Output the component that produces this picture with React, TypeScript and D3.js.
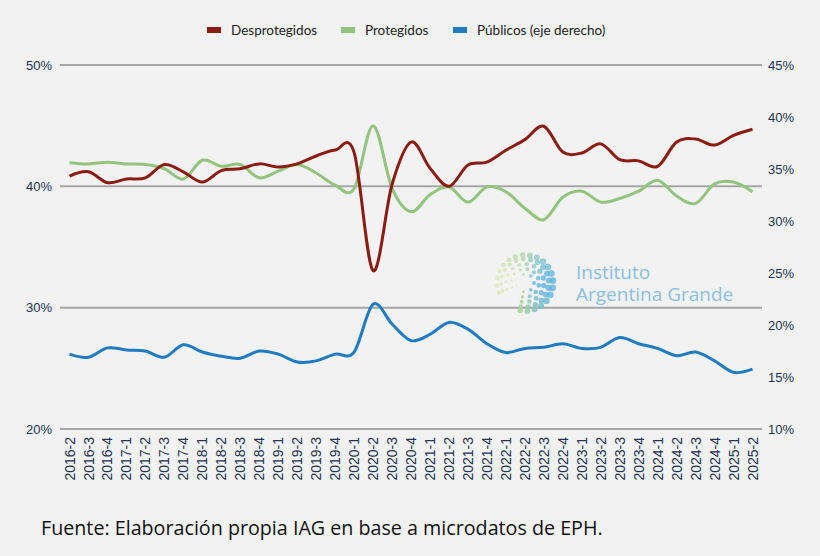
import React from "react";
import * as d3 from "d3";

const categories = [
  "2016-2","2016-3","2016-4",
  "2017-1","2017-2","2017-3","2017-4",
  "2018-1","2018-2","2018-3","2018-4",
  "2019-1","2019-2","2019-3","2019-4",
  "2020-1","2020-2","2020-3","2020-4",
  "2021-1","2021-2","2021-3","2021-4",
  "2022-1","2022-2","2022-3","2022-4",
  "2023-1","2023-2","2023-3","2023-4",
  "2024-1","2024-2","2024-3","2024-4",
  "2025-1","2025-2",
];

const desprotegidos = [40.85, 41.2, 40.3, 40.6, 40.7, 41.8, 41.2, 40.35, 41.3, 41.45, 41.85, 41.6, 41.85, 42.5, 43.0, 42.8, 33.05, 40.15, 43.65, 41.5, 40.0, 41.75, 42.0, 42.97, 43.85, 44.95, 42.83, 42.75, 43.5, 42.2, 42.1, 41.65, 43.65, 43.9, 43.4, 44.2, 44.7];
const protegidos = [41.95, 41.85, 41.98, 41.85, 41.8, 41.45, 40.6, 42.15, 41.65, 41.8, 40.7, 41.25, 41.8, 41.1, 40.1, 39.8, 45.0, 39.85, 37.9, 39.3, 39.95, 38.7, 39.95, 39.55, 38.2, 37.25, 39.1, 39.6, 38.7, 39.0, 39.6, 40.5, 39.2, 38.6, 40.2, 40.35, 39.55];
const publicos = [17.2, 16.9, 17.8, 17.6, 17.5, 16.9, 18.1, 17.4, 17.0, 16.8, 17.5, 17.2, 16.45, 16.55, 17.2, 17.4, 22.0, 20.1, 18.5, 19.1, 20.25, 19.6, 18.2, 17.35, 17.75, 17.85, 18.2, 17.75, 17.85, 18.8, 18.2, 17.75, 17.05, 17.4, 16.55, 15.45, 15.75];

const leftTicks = [20, 30, 40, 50];
const rightTicks = [10, 15, 20, 25, 30, 35, 40, 45];

const seriesNames = ["Desprotegidos", "Protegidos", "Públicos (eje derecho)"];
const seriesColors = ["#8b1c12", "#93c47d", "#1f7cc1"];

const W = 820;
const H = 556;
const plotLeft = 60;
const plotRight = 762;
const plotTop = 65;
const plotBottom = 429;

const tickColor = "#1f3354";

function Logo({ cx, cy }: { cx: number; cy: number }) {
  const dots: { x: number; y: number; r: number; c: string; o: number }[] = [];
  const rings = [9, 14, 19, 24, 28];
  const colorScale = d3
    .scaleLinear<string>()
    .domain([0, 0.45, 1])
    .range(["#d9e6a0", "#a9d2a0", "#5eb3e3"]);
  rings.forEach((rad, ri) => {
    const n = Math.round(rad * 0.75);
    for (let k = 0; k < n; k++) {
      const t = k / (n - 1);
      const ang = (-200 + t * 300) * (Math.PI / 180);
      const x = cx + rad * Math.cos(ang);
      const y = cy + rad * Math.sin(ang);
      const side = (Math.cos(ang) + 1) / 2;
      const r = 0.8 + ri * 0.35 + side * 1.2;
      dots.push({ x, y, r, c: colorScale(side), o: 0.55 + 0.35 * t });
    }
  });
  return (
    <g>
      {dots.map((d, i) => (
        <circle key={i} cx={d.x} cy={d.y} r={d.r} fill={d.c} opacity={d.o} />
      ))}
      <text fontFamily="'Open Sans', sans-serif" fontSize={19} fill="#8cbfe0">
        <tspan x={576} y={279}>Instituto</tspan>
        <tspan x={576} y={301}>Argentina Grande</tspan>
      </text>
    </g>
  );
}

export default function App() {
  const x = d3.scaleBand<string>().domain(categories).range([plotLeft, plotRight]);
  const xc = (c: string) => (x(c) as number) + x.bandwidth() / 2;
  const yL = d3.scaleLinear().domain([20, 50]).range([plotBottom, plotTop]);
  const yR = d3.scaleLinear().domain([10, 45]).range([plotBottom, plotTop]);

  const curve = d3.curveCardinal.tension(0);
  const lineL = d3
    .line<number>()
    .x((_, i) => xc(categories[i]))
    .y((d) => yL(d))
    .curve(curve);
  const lineR = d3
    .line<number>()
    .x((_, i) => xc(categories[i]))
    .y((d) => yR(d))
    .curve(curve);

  const legendItems = [
    { x: 207, tx: 231 },
    { x: 341, tx: 365 },
    { x: 453, tx: 477 },
  ];

  return (
    <svg
      width={W}
      height={H}
      style={{ position: "absolute", left: 0, top: 0, background: "#f2f2f2" }}
    >
      <rect x={0} y={0} width={W} height={H} fill="#f2f2f2" />

      {/* gridlines */}
      {leftTicks.map((t) => (
        <line
          key={t}
          x1={plotLeft}
          x2={plotRight}
          y1={yL(t)}
          y2={yL(t)}
          stroke="#a6a6a6"
          strokeWidth={2}
        />
      ))}

      {/* left ticks */}
      {leftTicks.map((t) => (
        <text
          key={"l" + t}
          x={52}
          y={yL(t)}
          dy="0.35em"
          textAnchor="end"
          fontFamily="'Liberation Sans', Arial, sans-serif"
          fontSize={13}
          fill={tickColor}
        >
          {t}%
        </text>
      ))}

      {/* right ticks */}
      {rightTicks.map((t) => (
        <text
          key={"r" + t}
          x={768}
          y={yR(t)}
          dy="0.35em"
          textAnchor="start"
          fontFamily="'Liberation Sans', Arial, sans-serif"
          fontSize={13}
          fill={tickColor}
        >
          {t}%
        </text>
      ))}

      {/* x labels */}
      {categories.map((c) => (
        <text
          key={c}
          transform={`translate(${xc(c)},437) rotate(-90)`}
          dy="0.36em"
          textAnchor="end"
          fontFamily="'Liberation Sans', Arial, sans-serif"
          fontSize={14}
          fill={tickColor}
        >
          {c}
        </text>
      ))}

      <Logo cx={525} cy={283} />

      {/* lines */}
      <path d={lineL(protegidos) || ""} fill="none" stroke={seriesColors[1]} strokeWidth={3} />
      <path d={lineL(desprotegidos) || ""} fill="none" stroke={seriesColors[0]} strokeWidth={3} />
      <path d={lineR(publicos) || ""} fill="none" stroke={seriesColors[2]} strokeWidth={3} />

      {/* legend */}
      {seriesNames.map((n, i) => (
        <g key={n}>
          <rect x={legendItems[i].x} y={27} width={14} height={6} fill={seriesColors[i]} />
          <text
            x={legendItems[i].tx}
            y={30}
            dy="0.35em"
            fontFamily="Lato, sans-serif"
            fontSize={13.5}
            fill="#222"
          >
            {n}
          </text>
        </g>
      ))}

      {/* source */}
      <text
        x={41}
        y={535}
        fontFamily="'Open Sans', sans-serif"
        fontSize={19.7}
        fill="#111"
      >
        Fuente: Elaboración propia IAG en base a microdatos de EPH.
      </text>
    </svg>
  );
}
